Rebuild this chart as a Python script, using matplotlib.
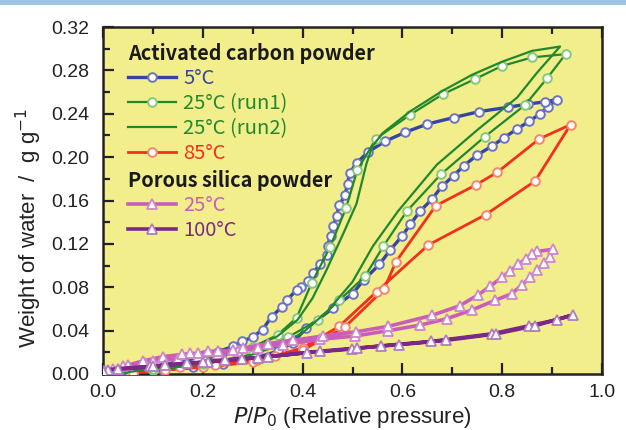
import matplotlib
matplotlib.use("Agg")
import matplotlib.pyplot as plt
from matplotlib.patches import Rectangle
import numpy as np

# ---------------- data (P/P0, weight g/g) ----------------
# Activated carbon 5 C : adsorption then desorption
c5_ads_x = [0.01, 0.06, 0.12, 0.18, 0.24, 0.30, 0.35, 0.38, 0.407, 0.4615, 0.500, 0.523, 0.554, 0.575,
            0.599, 0.616, 0.635, 0.659, 0.679, 0.703, 0.723, 0.750, 0.779, 0.804, 0.830, 0.854, 0.876, 0.891, 0.909]
c5_ads_y = [0.001, 0.002, 0.004, 0.006, 0.009, 0.014, 0.021, 0.029, 0.042, 0.061, 0.074, 0.087, 0.101, 0.114,
            0.127, 0.138, 0.150, 0.161, 0.173, 0.183, 0.192, 0.202, 0.210, 0.218, 0.226, 0.233, 0.240, 0.246, 0.253]
c5_des_x = [0.886, 0.852, 0.812, 0.754, 0.703, 0.650, 0.606, 0.565, 0.532, 0.509, 0.494, 0.490, 0.485, 0.4735,
            0.468, 0.4615, 0.456, 0.450, 0.4495, 0.435, 0.420, 0.411, 0.397, 0.388, 0.368, 0.358, 0.338, 0.320,
            0.300, 0.278, 0.261, 0.2305, 0.20, 0.15, 0.10, 0.05, 0.01]
c5_des_y = [0.251, 0.249, 0.246, 0.242, 0.2365, 0.2305, 0.223, 0.2145, 0.205, 0.195, 0.185, 0.175, 0.165, 0.1555,
            0.146, 0.1365, 0.127, 0.1185, 0.110, 0.101, 0.093, 0.086, 0.080, 0.0774, 0.068, 0.0615, 0.053, 0.041,
            0.034, 0.030, 0.0255, 0.0206, 0.016, 0.011, 0.007, 0.003, 0.001]

# Activated carbon 25 C run1 (markers)
c25a_ads_x = [0.01, 0.10, 0.20, 0.30, 0.371, 0.4315, 0.4735, 0.525, 0.562, 0.6086, 0.6767, 0.7655, 0.8457, 0.8904, 0.9272]
c25a_ads_y = [0.001, 0.004, 0.009, 0.018, 0.034, 0.050, 0.068, 0.090, 0.118, 0.150, 0.184, 0.219, 0.248, 0.273, 0.295]
c25a_des_x = [0.8603, 0.799, 0.7455, 0.6808, 0.6152, 0.5471, 0.5096, 0.487, 0.4549, 0.4182, 0.3882, 0.35, 0.30, 0.20, 0.10, 0.01]
c25a_des_y = [0.292, 0.284, 0.272, 0.258, 0.239, 0.217, 0.188, 0.153, 0.117, 0.084, 0.052, 0.036, 0.025, 0.013, 0.005, 0.001]

# Activated carbon 25 C run2 (line only)
c25b_ads_x = [0.0, 0.10, 0.20, 0.30, 0.35, 0.40, 0.45, 0.50, 0.541, 0.591, 0.669, 0.75, 0.83, 0.87, 0.916]
c25b_ads_y = [0.0, 0.004, 0.009, 0.018, 0.026, 0.038, 0.058, 0.085, 0.118, 0.150, 0.193, 0.225, 0.255, 0.278, 0.302]
c25b_des_x = [0.86, 0.80, 0.74, 0.68, 0.615, 0.56, 0.54, 0.528, 0.508, 0.482, 0.448, 0.42, 0.39, 0.35, 0.30, 0.20, 0.10, 0.0]
c25b_des_y = [0.298, 0.288, 0.276, 0.261, 0.242, 0.222, 0.210, 0.194, 0.157, 0.130, 0.096, 0.070, 0.050, 0.035, 0.024, 0.012, 0.005, 0.0]

# Activated carbon 85 C
c85_ads_x = [0.01, 0.06, 0.124, 0.20, 0.30, 0.40, 0.4735, 0.5485, 0.652, 0.767, 0.866, 0.937]
c85_ads_y = [0.0, 0.001, 0.004, 0.006, 0.011, 0.024, 0.044, 0.076, 0.119, 0.147, 0.178, 0.230]
c85_des_x = [0.874, 0.790, 0.747, 0.667, 0.587, 0.563, 0.484, 0.40, 0.345, 0.308, 0.224, 0.154, 0.10, 0.03]
c85_des_y = [0.2167, 0.186, 0.1743, 0.1552, 0.1035, 0.078, 0.043, 0.022, 0.017, 0.013, 0.008, 0.006, 0.004, 0.001]

# Porous silica 25 C
s25_ads_x = [0.005, 0.02, 0.05, 0.085, 0.10, 0.15, 0.19, 0.23, 0.27, 0.31, 0.36, 0.435, 0.505, 0.572, 0.635,
             0.689, 0.739, 0.786, 0.819, 0.839, 0.856, 0.870, 0.884, 0.896, 0.902]
s25_ads_y = [0.003, 0.005, 0.008, 0.010, 0.012, 0.014, 0.016, 0.018, 0.021, 0.024, 0.027, 0.032, 0.035, 0.040, 0.045,
             0.051, 0.059, 0.068, 0.074, 0.082, 0.089, 0.096, 0.102, 0.108, 0.115]
s25_des_x = [0.870, 0.859, 0.847, 0.832, 0.816, 0.799, 0.776, 0.752, 0.715, 0.659, 0.572, 0.508, 0.44, 0.38,
             0.33, 0.28, 0.26, 0.23, 0.21, 0.19, 0.175, 0.158, 0.12, 0.08, 0.04, 0.0]
s25_des_y = [0.113, 0.111, 0.106, 0.101, 0.095, 0.089, 0.081, 0.073, 0.063, 0.054, 0.044, 0.039, 0.035, 0.031,
             0.028, 0.024, 0.022, 0.021, 0.021, 0.019, 0.019, 0.018, 0.016, 0.012, 0.007, 0.003]

# Porous silica 100 C
s100_ads_x = [0.01, 0.03, 0.094, 0.124, 0.168, 0.211, 0.245, 0.278, 0.331, 0.408, 0.498, 0.558, 0.657, 0.779, 0.854, 0.909, 0.941]
s100_ads_y = [0.004, 0.005, 0.007, 0.008, 0.0099, 0.011, 0.013, 0.014, 0.016, 0.0196, 0.023, 0.026, 0.030, 0.037, 0.0445, 0.050, 0.0544]
s100_des_x = [0.866, 0.788, 0.687, 0.593, 0.510, 0.435, 0.31, 0.20, 0.10, 0.0]
s100_des_y = [0.0445, 0.037, 0.031, 0.027, 0.024, 0.021, 0.015, 0.011, 0.007, 0.003]

labels = ["5°C", "25°C (run1)", "25°C (run2)", "85°C", "25°C", "100°C"]
headers = ["Activated carbon powder", "Porous silica powder"]

# ---------------- styling ----------------
BG = "#F2EE8C"
C_BLUE, E_BLUE = "#34469F", "#6B73C4"
C_GREEN, E_GREEN = "#22882E", "#86C877"
C_RED, E_RED = "#F2301E", "#F4866E"
C_PINK, E_PINK = "#C95EB8", "#CF86CC"
C_PURP, E_PURP = "#7A2A86", "#B27DC0"

fig = plt.figure(figsize=(6.26, 4.30), dpi=100)
fig.patches.append(Rectangle((0, 1 - 5 / 430), 1, 5 / 430, transform=fig.transFigure,
                             facecolor="#9EC4E6", edgecolor="none"))
ax = fig.add_axes([103 / 626, 56 / 430, 499 / 626, 347 / 430])
ax.set_facecolor(BG)

def cat(a, b):
    return list(a) + list(b)

h1, = ax.plot(cat(c5_ads_x, c5_des_x), cat(c5_ads_y, c5_des_y), color=C_BLUE, lw=2.4,
              marker="o", ms=6.2, mfc="white", mec=E_BLUE, mew=1.4, zorder=3)
h2, = ax.plot(cat(c25a_ads_x, c25a_des_x), cat(c25a_ads_y, c25a_des_y), color=C_GREEN, lw=1.6,
              marker="o", ms=6.2, mfc="white", mec=E_GREEN, mew=1.4, zorder=4)
h3, = ax.plot(cat(c25b_ads_x, c25b_des_x), cat(c25b_ads_y, c25b_des_y), color=C_GREEN, lw=1.6, zorder=4)
h4, = ax.plot(cat(c85_ads_x, c85_des_x), cat(c85_ads_y, c85_des_y), color=C_RED, lw=2.0,
              marker="o", ms=6.2, mfc="white", mec=E_RED, mew=1.4, zorder=3)
h5, = ax.plot(cat(s25_ads_x, s25_des_x), cat(s25_ads_y, s25_des_y), color=C_PINK, lw=2.6,
              marker="^", ms=7.5, mfc="white", mec=E_PINK, mew=1.3, zorder=5)
h6, = ax.plot(cat(s100_ads_x, s100_des_x), cat(s100_ads_y, s100_des_y), color=C_PURP, lw=2.6,
              marker="^", ms=7.5, mfc="white", mec=E_PURP, mew=1.3, zorder=5)

ax.set_xlim(0, 1.0)
ax.set_ylim(0, 0.32)
ax.set_xticks(np.arange(0, 1.01, 0.2))
ax.set_xticks(np.arange(0, 1.01, 0.1), minor=True)
ax.set_yticks(np.arange(0, 0.321, 0.04))
ax.set_yticks(np.arange(0, 0.321, 0.02), minor=True)
ax.xaxis.set_major_formatter(matplotlib.ticker.FormatStrFormatter("%.1f"))
ax.yaxis.set_major_formatter(matplotlib.ticker.FormatStrFormatter("%.2f"))
ax.tick_params(which="both", direction="in", top=True, right=False, color="#222222", width=1.6)
ax.tick_params(which="major", length=8, labelsize=14)
ax.tick_params(axis="y", which="major", pad=10)
ax.tick_params(axis="x", which="major", pad=7)
ax.tick_params(which="minor", length=5)
for lab in ax.get_xticklabels() + ax.get_yticklabels():
    lab.set_family(["Liberation Sans", "DejaVu Sans"])
    lab.set_color("#222222")
for s in ax.spines.values():
    s.set_linewidth(1.8)
    s.set_color("#222222")

ax.set_xlabel("$\\it{P}$/$\\it{P}$$_{\\rm 0}$ (Relative pressure)", fontsize=16, family="Liberation Sans",
              color="#222222", labelpad=3)
ax.set_ylabel("Weight of water  /  g g$^{-1}$", fontsize=16, family="Liberation Sans",
              color="#222222")
ax.yaxis.set_label_coords(-0.118, 0.42)

legfont = {"family": ["Noto Sans CJK JP", "DejaVu Sans"], "size": 14.5}
titlefont = {"family": ["Noto Sans CJK JP", "DejaVu Sans"], "size": 14.3, "weight": "bold"}
common = dict(frameon=False, loc="upper left", alignment="left", prop=legfont,
              title_fontproperties=titlefont, handlelength=2.4, handletextpad=0.35,
              labelspacing=0.2, borderpad=0, borderaxespad=0)
leg1 = ax.legend([h1, h2, h3, h4], labels[:4], title=headers[0],
                 bbox_to_anchor=(0.05, 0.955), **common)
for t, c in zip(leg1.get_texts(), [C_BLUE, C_GREEN, C_GREEN, C_RED]):
    t.set_color(c)
leg1.get_title().set_color("#1a1a1a")
ax.add_artist(leg1)
leg2 = ax.legend([h5, h6], labels[4:], title=headers[1],
                 bbox_to_anchor=(0.05, 0.588), **common)
for t, c in zip(leg2.get_texts(), [C_PINK, C_PURP]):
    t.set_color(c)
leg2.get_title().set_color("#1a1a1a")

fig.savefig("out.png", dpi=100)
